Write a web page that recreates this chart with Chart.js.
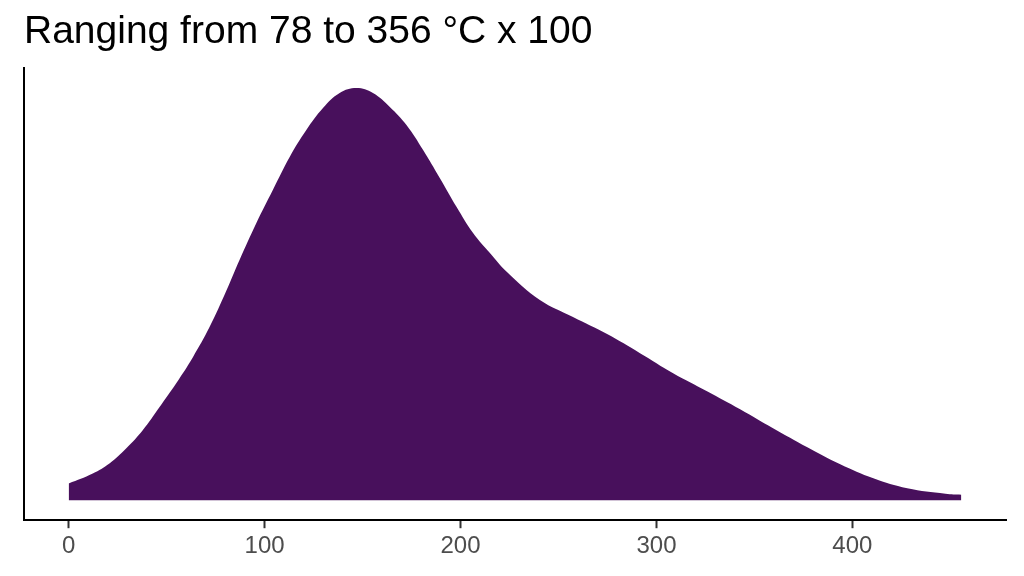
<!DOCTYPE html>
<html>
<head>
<meta charset="utf-8">
<script src="https://cdn.jsdelivr.net/npm/chart.js@4"></script>
<style>
  html, body { margin: 0; padding: 0; background: #fff; }
  #wrap { width: 1024px; height: 576px; }
</style>
</head>
<body>
<div id="wrap"><canvas id="densityChart"></canvas></div>
<script>
// density estimate (x in the data's units, y in arbitrary density units)
var xVals = [0, 12.3, 20.8, 29.3, 37.8, 46.3, 54.9, 63.4, 71.9, 80.4, 87.2, 95.8, 104.2, 112.8, 121.3, 129.8, 138.3, 146.9, 155.3, 163.9, 172.4, 180.9, 189.4, 198, 206.4, 215, 223.7, 240.5, 257.4, 274.8, 291.6, 308.5, 325.8, 342.7, 359.5, 377, 393.8, 410.7, 428, 447.5, 455.6];
var densVals = [16.7, 26.7, 36.7, 51.7, 70, 93, 117, 143, 173, 209, 240, 277, 310, 343, 370, 392, 407, 412, 407, 393, 375, 350, 322, 293, 267, 247, 228, 200, 183, 166, 147, 127, 109, 91, 72, 53, 36, 22, 12, 6.5, 5.5];
var tickVals = [0, 100, 200, 300, 400];
var titleText = 'Ranging from 78 to 356 °C x 100';

var points = xVals.map(function (x, i) { return { x: x, y: densVals[i] }; });

var ctx = document.getElementById('densityChart');
var densityChart = new Chart(ctx, {
  type: 'line',
  data: {
    datasets: [
      {
        data: points,
        backgroundColor: '#48105c',
        borderWidth: 0,
        pointRadius: 0,
        fill: 'origin',
        tension: 0.4
      }
    ]
  },
  options: {
    responsive: true,
    maintainAspectRatio: false,
    animation: false,
    layout: {
      padding: { left: 24, right: 18, top: 0, bottom: 11 }
    },
    plugins: {
      legend: { display: false },
      tooltip: { enabled: false },
      title: {
        display: true,
        text: titleText,
        align: 'start',
        color: '#000',
        font: { family: 'Liberation Sans', size: 39, weight: 'normal' },
        padding: { top: 9, bottom: 12.2 }
      }
    },
    scales: {
      x: {
        type: 'linear',
        min: -22.8,
        max: 478.4,
        afterBuildTicks: function (axis) {
          axis.ticks = tickVals.map(function (v) { return { value: v }; });
        },
        grid: {
          display: true,
          drawOnChartArea: false,
          drawTicks: true,
          tickLength: 8,
          tickWidth: 2,
          tickColor: '#333333'
        },
        border: { display: true, color: '#000', width: 2 },
        ticks: {
          color: '#4d4d4d',
          padding: 4,
          maxRotation: 0,
          font: { family: 'Liberation Sans', size: 24 }
        }
      },
      y: {
        min: -20,
        max: 432,
        afterFit: function (scale) { scale.width = 0; },
        grid: { display: false },
        border: { display: true, color: '#000', width: 2 },
        ticks: { display: false }
      }
    }
  }
});
</script>
</body>
</html>
